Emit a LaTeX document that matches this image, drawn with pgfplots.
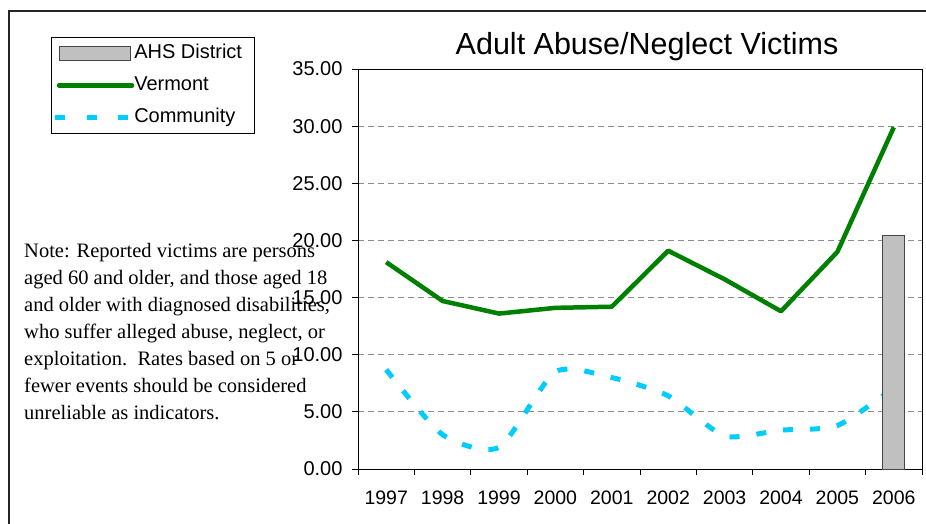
\documentclass[border=0pt]{standalone}
\usepackage{pgfplots}
\pgfplotsset{compat=1.18}
\usepackage{fontspec}
\setmainfont{Liberation Sans}
\newfontfamily\notefont{Liberation Serif}
\definecolor{vtgreen}{RGB}{0,128,0}
\definecolor{comcyan}{RGB}{0,204,255}
\definecolor{barfill}{RGB}{192,192,192}
\definecolor{bardraw}{RGB}{70,70,70}
\definecolor{gridgray}{RGB}{140,140,140}
\begin{document}
\begin{tikzpicture}[x=1pt,y=1pt]
\useasboundingbox (0,0) rectangle (926,523);
\clip (0,0) rectangle (926,523);
\fill[white] (0,0) rectangle (926,523);
\draw[line width=1.5pt, black!85] (9,-5) -- (9,512) -- (935,512);
\begin{axis}[
  at={(358pt,54pt)}, anchor=south west,
  scale only axis, width=564pt, height=400pt,
  xmin=-0.5, xmax=9.5, ymin=0, ymax=35,
  axis line style={black, line width=1pt},
  tick style={black, line width=1pt},
  tick align=outside,
  xtick={0,...,9},
  xticklabels={1997,1998,1999,2000,2001,2002,2003,2004,2005,2006},
  major x tick style={draw=none},
  minor xtick={-0.5,0.5,...,9.5},
  minor tick length=6pt,
  xtick pos=bottom,
  ytick={0,5,...,35},
  ytick pos=left,
  major tick length=6pt,
  ymajorgrids,
  grid style={gridgray, line width=1pt, dash pattern=on 6pt off 4pt},
  ticklabel style={font=\fontsize{20}{22}\selectfont},
  xticklabel style={yshift=-12pt, font=\fontsize{19.5}{22}\selectfont},
  yticklabel style={xshift=-6pt},
  /pgf/number format/assume math mode=true,
  yticklabel={\pgfmathprintnumber[fixed, fixed zerofill, precision=2]{\tick}},
  legend style={at={(-0.5443,1.08)}, anchor=north west, draw=black, line width=1pt, fill=white,
    font=\fontsize{20}{22}\selectfont, inner xsep=1pt, inner ysep=6pt,
    row sep=12pt,
    nodes={inner sep=0pt, text height=15pt, text depth=5pt},
    /tikz/every even column/.append style={column sep=5pt}},
  legend cell align=left,
]
\addplot[ybar, bar width=22pt, fill=barfill, draw=bardraw, line width=1pt,
  legend image code/.code={\draw[fill=barfill, draw=bardraw, line width=1pt] (0pt,-7pt) rectangle (71pt,7pt);}]
  coordinates {(9,20.4)};
\addlegendentry{AHS District\hspace*{11pt}}
\addplot[vtgreen, line width=4.5pt, line join=round,
  legend image code/.code={\draw[vtgreen, line width=4.5pt, line cap=round] (0pt,0pt) -- (73pt,0pt);}]
  coordinates {(0,18.1) (1,14.7) (2,13.6) (3,14.1) (4,14.2) (5,19.1) (6,16.6) (7,13.8) (8,19.0) (9,29.9)};
\addlegendentry{Vermont}
\addplot[comcyan, line width=5pt, smooth, tension=0.4, dash pattern=on 10pt off 17pt,
  legend image code/.code={\draw[comcyan, line width=5pt, dash pattern=on 10pt off 21.5pt] (-4pt,0pt) -- (70pt,0pt);}]
  coordinates {(0,8.7) (1,3.0) (2,1.9) (3,8.5) (4,8.0) (5,6.4) (6,2.9) (7,3.4) (8,3.8) (9,7.1)};
\addlegendentry{Community}
\addplot[ybar, bar width=22pt, fill=barfill, draw=bardraw, line width=1pt, forget plot]
  coordinates {(9,20.4)};
\end{axis}
\node[font=\fontsize{30.5}{36}\selectfont] at (647,476) {Adult Abuse/Neglect Victims};
\node[anchor=north west, inner sep=0pt, align=left, font=\notefont\fontsize{20.5}{27}\selectfont] at (24,280)
  {Note: Reported victims are persons\\
   aged 60 and older, and those aged 18\\
   and older with diagnosed disabilities,\\
   who suffer alleged abuse, neglect, or\\
   exploitation.\ \ Rates based on 5 or\\
   fewer events should be considered\\
   unreliable as indicators.};
\end{tikzpicture}
\end{document}
